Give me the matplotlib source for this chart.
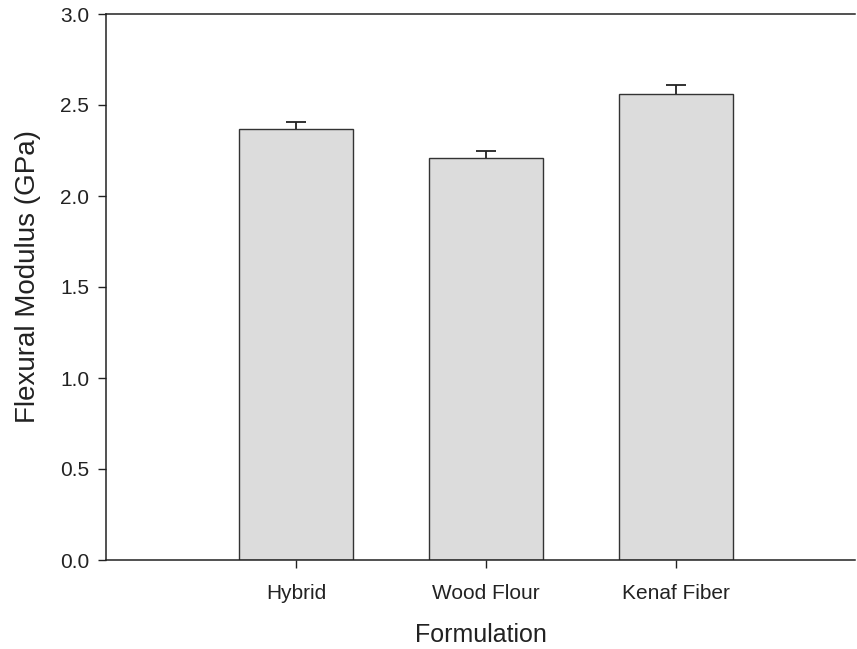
import numpy as np
import matplotlib.pyplot as plt

plt.rcParams['font.family'] = ['Liberation Sans', 'DejaVu Sans']

# flexural modulus per formulation (GPa) with standard deviation
formulations = ['Hybrid', 'Wood Flour', 'Kenaf Fiber']
modulus = [2.37, 2.21, 2.56]
modulus_sd = [0.036, 0.038, 0.05]

fig = plt.figure(figsize=(8.57, 6.49), dpi=100)
ax = fig.add_axes([106/857, 89/649, 749/857, 546/649])

idx = np.arange(len(formulations))
bars = ax.bar(idx, modulus, width=0.6, color='#dcdcdc', edgecolor='#333333', linewidth=1.0,
              yerr=[np.zeros(len(modulus_sd)), modulus_sd], capsize=7,
              error_kw=dict(elinewidth=1.3, capthick=1.3, ecolor='#222222'))
# only the upper cap is shown
bars.errorbar.lines[1][0].set_visible(False)

ax.set_xlim(-1.0, 2.94)
ax.set_ylim(0, 3.0)
ax.set_yticks(np.arange(0, 3.01, 0.5))
ax.set_yticklabels(['%.1f' % v for v in np.arange(0, 3.01, 0.5)])
ax.set_xticks(idx)
ax.set_xticklabels(formulations)

ax.spines['right'].set_visible(False)
for s in ['left', 'top', 'bottom']:
    ax.spines[s].set_linewidth(1.1)
    ax.spines[s].set_color('#222222')

ax.tick_params(axis='both', direction='out', length=6, width=1.0, colors='#222222',
               labelsize=15, labelcolor='#222222')
ax.tick_params(axis='x', pad=11)
ax.tick_params(axis='y', pad=6)

ax.set_xlabel('Formulation', fontsize=18, labelpad=15, color='#222222')
ax.set_ylabel('Flexural Modulus (GPa)', fontsize=20, color='#222222')
ax.yaxis.set_label_coords(-0.087, 0.52)

fig.savefig('out.png', dpi=100)
